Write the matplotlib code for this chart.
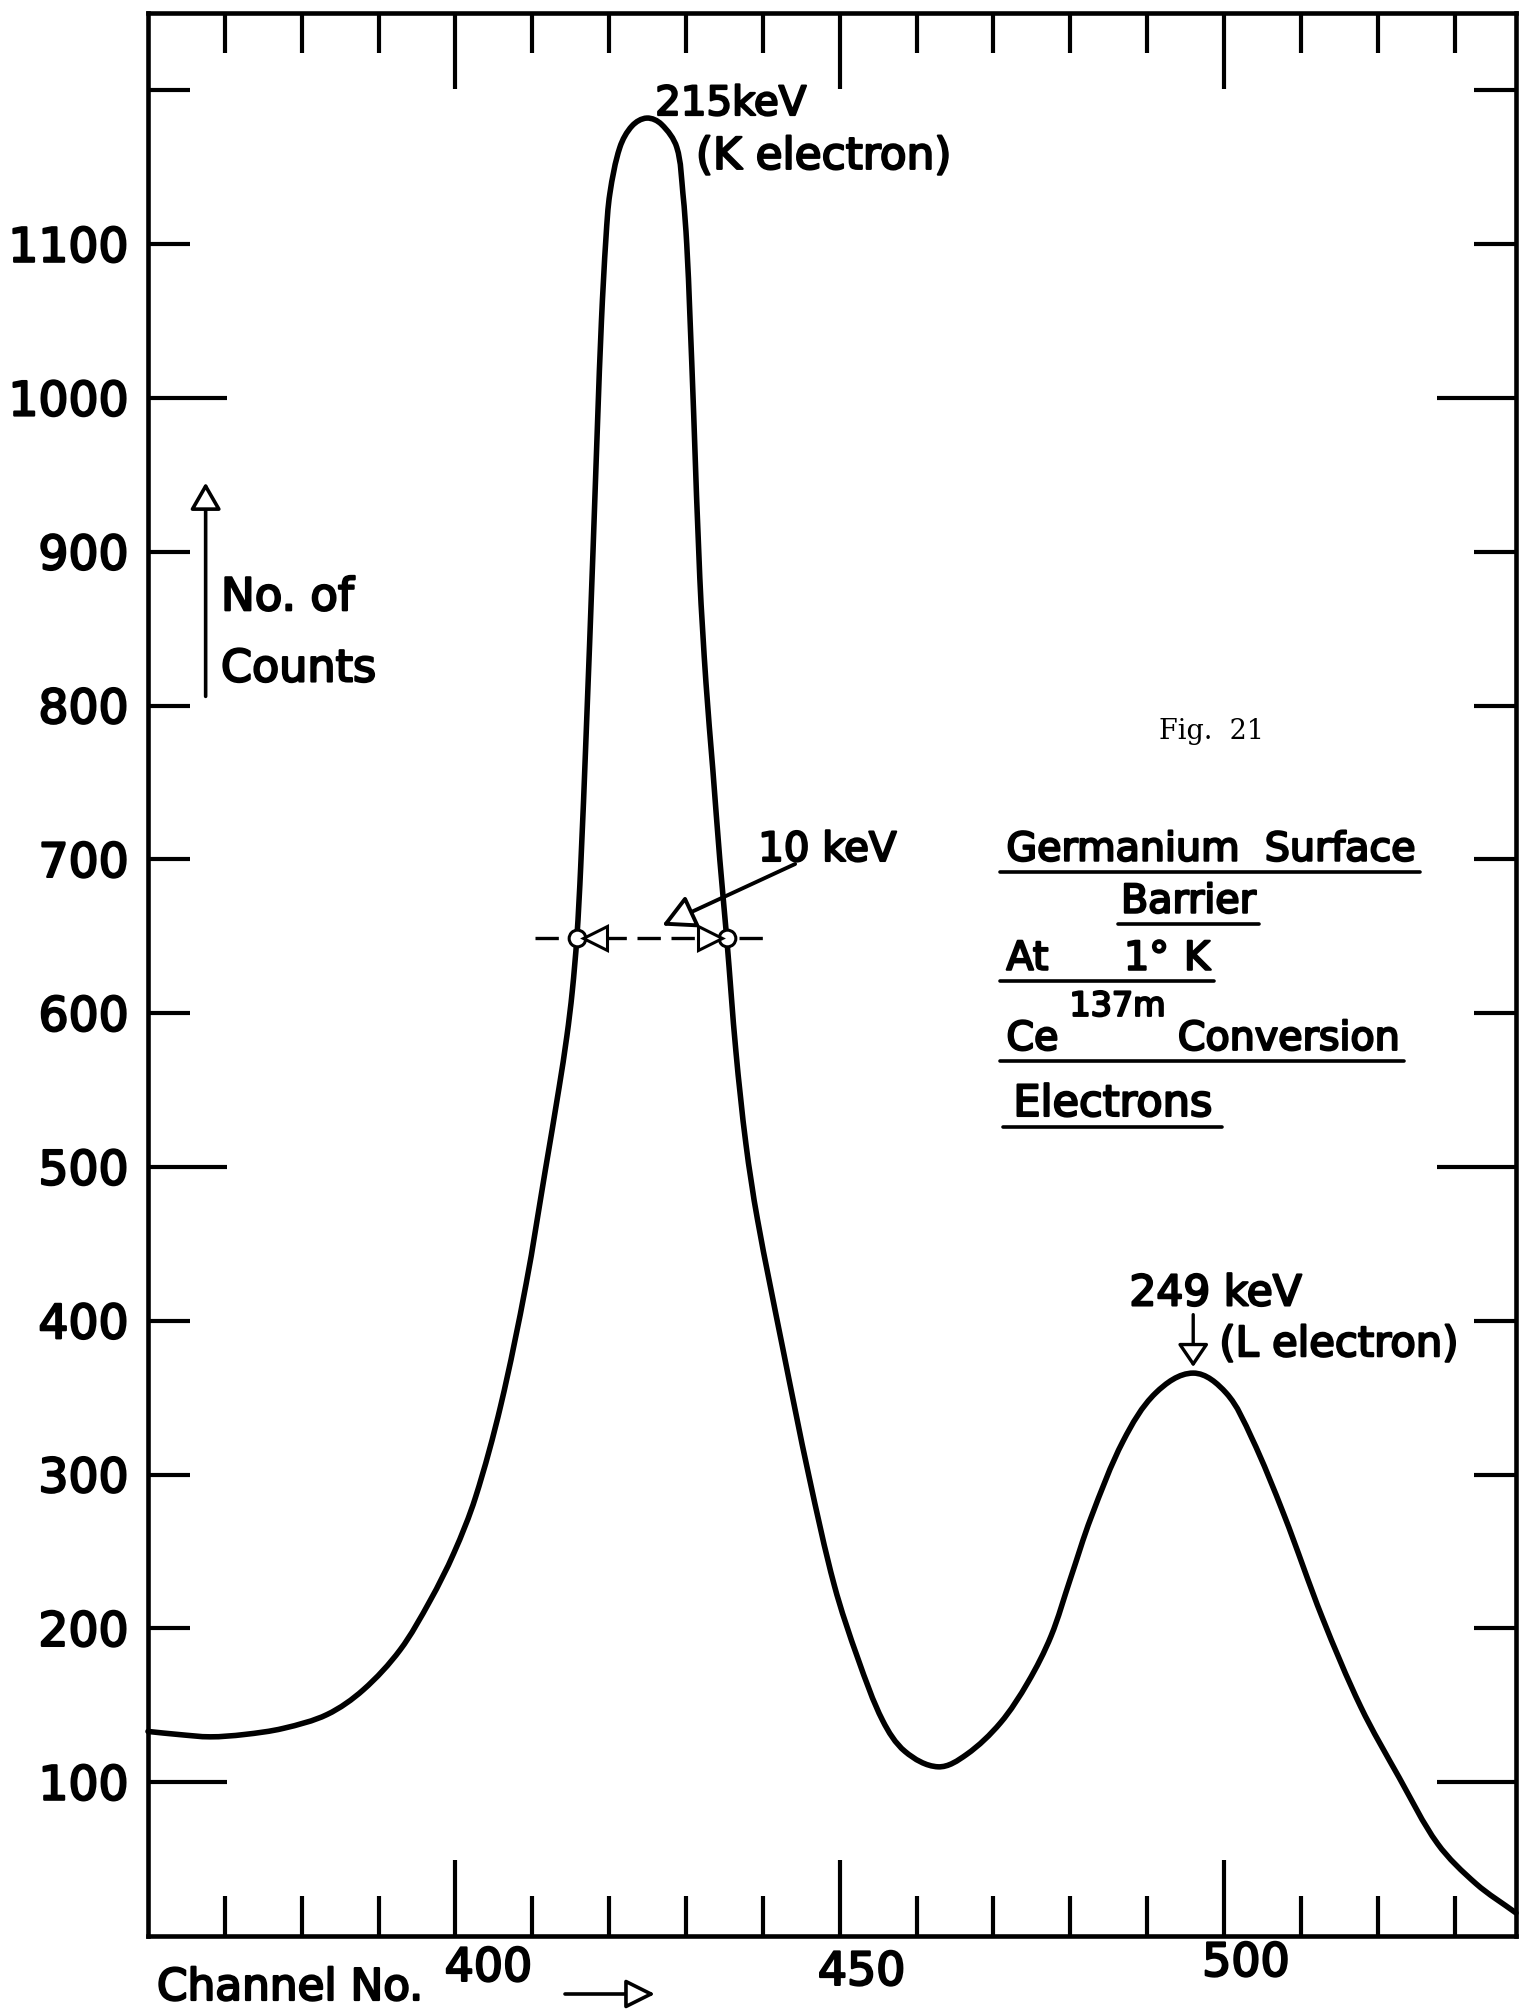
import numpy as np
import matplotlib
matplotlib.use("Agg")
import matplotlib.pyplot as plt
import matplotlib.patheffects as pe
from matplotlib.patches import FancyArrowPatch, PathPatch
from matplotlib.path import Path
from matplotlib.transforms import ScaledTranslation

plt.rcParams["font.family"] = ["DejaVu Sans"]

# Ce-137m conversion electron spectrum (Ge surface barrier, 1 K)
channels = [360.0, 364.0, 368.1, 372.5, 377.6, 383.3, 388.0, 392.8, 396.7, 399.8,
            402.6, 405.9, 409.2, 411.7, 413.5, 414.5, 415.2, 415.8, 416.3, 417.0,
            417.9, 418.5, 419.0, 419.6, 420.1, 421.4, 423.0, 424.9, 426.8, 428.8,
            429.6, 430.1, 430.5, 431.0, 431.8, 432.6, 433.5, 434.4, 435.3, 436.5,
            437.8, 439.3, 442.6, 446.0, 449.3, 452.4, 455.6, 458.5, 462.8, 466.5,
            470.9, 474.5, 477.5, 480.0, 482.7, 486.9, 491.1, 496.0, 500.3, 503.6,
            507.8, 512.8, 517.8, 522.8, 527.8, 532.8, 538.0]
counts = [133, 131, 129.5, 131, 135, 144, 160, 186, 218, 249,
          285, 345, 424, 498, 552, 585, 614, 649, 695, 780,
          900, 985, 1050, 1105, 1133, 1163, 1177, 1182, 1178, 1163,
          1133, 1100, 1055, 990, 883, 815, 758, 700, 649, 575,
          515, 466, 382, 299, 228, 180, 140, 120, 110, 118,
          138.5, 165, 195, 232, 272, 322, 353, 366, 353, 324,
          274, 207, 149, 103, 60, 34, 15]

x_major = [400, 450, 500]
x_minor = [370, 380, 390, 410, 420, 430, 440, 460, 470, 480, 490, 510, 520, 530]
y_long = [100, 500, 1000]
y_short = [200, 300, 400, 600, 700, 800, 900, 1100, 1200]
y_short_labels = ["200", "300", "400", "600", "700", "800", "900", "1100", ""]

half_max = 649
fwhm_edges = [415.8, 435.3]
fwhm_line = [410.3, 440.0]
l_peak_channel = 496.0

INK = "black"
heavy = [pe.withStroke(linewidth=1.6, foreground=INK)]

W, H = 1525, 2013
fig = plt.figure(figsize=(W / 100, H / 100), dpi=100)
ax = fig.add_axes([148 / W, 1 - 1936 / H, (1516 - 148) / W, (1936 - 13.5) / H])
ax.set_xlim(360, 538)
ax.set_ylim(0, 1250)

for s in ax.spines.values():
    s.set_linewidth(3.3)

# ticks on all four sides, pointing inward
ax.set_xticks(x_major, [str(v) for v in x_major])
ax.set_xticks(x_minor, minor=True)
ax.set_yticks(y_long, [str(v) for v in y_long])
ax.set_yticks(y_short, y_short_labels, minor=True)
ax.tick_params(which="both", direction="in", top=True, right=True, width=3.0,
               color=INK)
ax.tick_params(axis="x", which="major", length=55, labelsize=33, pad=10)
ax.tick_params(axis="x", which="minor", length=29)
ax.tick_params(axis="y", which="major", length=57, labelsize=34, pad=14)
ax.tick_params(axis="y", which="minor", length=30, labelsize=34, pad=14,
               labelleft=True)
# hand-lettered channel numbers sit a little right of their ticks
label_offsets = {400: (33, 4), 450: (22, 0), 500: (22, 9)}
for val, lbl in zip(x_major, ax.get_xticklabels()):
    dx, dy = label_offsets[val]
    lbl.set_transform(lbl.get_transform() +
                      ScaledTranslation(dx / 100, dy / 100, fig.dpi_scale_trans))
    lbl.set_path_effects(heavy)
for lbl in ax.get_yticklabels() + ax.get_yticklabels(minor=True):
    lbl.set_path_effects(heavy)


def smooth_curve(xs, ys):
    """Bezier path through the points, tangents built in display space."""
    P = ax.transData.transform(np.column_stack([xs, ys]))
    n = len(P)
    tang = np.zeros_like(P)
    for i in range(n):
        a = P[max(i - 1, 0)]
        b = P[min(i + 1, n - 1)]
        d = b - a
        tang[i] = d / np.hypot(*d)
    verts = [P[0]]
    codes = [Path.MOVETO]
    for i in range(n - 1):
        seg = np.hypot(*(P[i + 1] - P[i])) / 3
        verts += [P[i] + tang[i] * seg, P[i + 1] - tang[i + 1] * seg, P[i + 1]]
        codes += [Path.CURVE4] * 3
    verts = ax.transData.inverted().transform(np.array(verts))
    return Path(verts, codes)


ax.add_patch(PathPatch(smooth_curve(channels, counts), fill=False, ec=INK,
                       lw=4.0, joinstyle="round", capstyle="round",
                       clip_on=False))

# FWHM marker
ax.plot(fwhm_line, [half_max, half_max], color=INK, lw=2.4, ls=(0, (7, 3.2)))
ax.plot(fwhm_edges, [half_max, half_max], "o", ms=12, mfc="white",
        mec=INK, mew=2.2)
ax.plot(fwhm_edges[0] + 2.3, half_max, marker="<", ms=17, mfc="white",
        mec=INK, mew=2.2)
ax.plot(fwhm_edges[1] - 2.2, half_max, marker=">", ms=17, mfc="white",
        mec=INK, mew=2.2)

ax.annotate("", xy=(426.9, 657), xytext=(444.2, 697),
            arrowprops=dict(arrowstyle="-|>,head_length=2.0,head_width=1.05",
                            lw=2.8, fc="white", ec=INK, mutation_scale=10,
                            shrinkA=0, shrinkB=0))


def label(x, y, s, size, **kw):
    return ax.text(x, y, s, fontsize=size, va="baseline", path_effects=heavy,
                   **kw)


label(439.4, 699, "10 keV", 29)

# peak labels
label(426.0, 1184, "215keV", 29)
label(431.3, 1149, "(K electron)", 31.5)
label(487.7, 410, "249 keV", 30.5)
label(499.4, 377, "(L electron)", 30)
ax.annotate("", xy=(l_peak_channel, 370), xytext=(l_peak_channel, 404),
            arrowprops=dict(arrowstyle="-|>,head_length=1.4,head_width=0.95",
                            lw=2.4, fc="white", ec=INK, mutation_scale=10,
                            shrinkA=0, shrinkB=0))

# y-axis caption with upward arrow
ax.annotate("", xy=(367.5, 945), xytext=(367.5, 806),
            arrowprops=dict(arrowstyle="-|>,head_length=1.65,head_width=0.95",
                            lw=2.6, fc="white", ec=INK, mutation_scale=10,
                            shrinkA=0, shrinkB=0))
label(369.5, 862, "No. of", 32.5)
label(369.5, 815.7, "Counts", 32)

ax.text(491.5, 778, "Fig.  21", fontsize=19.5, family="DejaVu Serif",
        va="baseline")

# descriptive block
blk = 28.5
t_ge = label(471.7, 699.2, "Germanium  Surface", blk)
t_ba = label(495.4, 665.4, "Barrier", blk, ha="center")
t_at = label(471.7, 628.3, "At", blk)
label(487.0, 628.3, "1°", blk)
t_k = label(494.8, 628.3, "K", blk)
t_ce = label(471.7, 576.2, "Ce", blk)
label(479.9, 598.3, "137m", 24)
t_cv = label(494.0, 576.2, "Conversion", blk)
t_el = label(472.6, 533.2, "Electrons", 31)

# axis caption below
fig.text(157 / W, 1 - 2000 / H, "Channel No.", fontsize=31.5, va="baseline",
         path_effects=heavy)
fig.patches.append(FancyArrowPatch((565 / W, 1 - 1994 / H), (655 / W, 1 - 1994 / H),
                                   transform=fig.transFigure,
                                   arrowstyle="-|>,head_length=1.8,head_width=0.9",
                                   mutation_scale=10, lw=2.6, fc="white",
                                   ec=INK, shrinkA=0, shrinkB=0))

# underline the descriptive block using the rendered text extents
fig.canvas.draw()
renderer = fig.canvas.get_renderer()
inv = ax.transData.inverted()


def underline(first, last, pad_l=6, pad_r=4, drop=2):
    b0 = first.get_window_extent(renderer)
    b1 = last.get_window_extent(renderer)
    (x0, y0) = inv.transform((b0.x0 - pad_l, b0.y0 - drop))
    (x1, _) = inv.transform((b1.x1 + pad_r, b0.y0 - drop))
    ax.plot([x0, x1], [y0, y0], color=INK, lw=2.6, solid_capstyle="round")


underline(t_ge, t_ge)
underline(t_ba, t_ba, pad_l=3, pad_r=3)
underline(t_at, t_k)
underline(t_ce, t_cv)
underline(t_el, t_el, pad_l=10, pad_r=10)

fig.savefig("out.png", dpi=100, facecolor="white")
